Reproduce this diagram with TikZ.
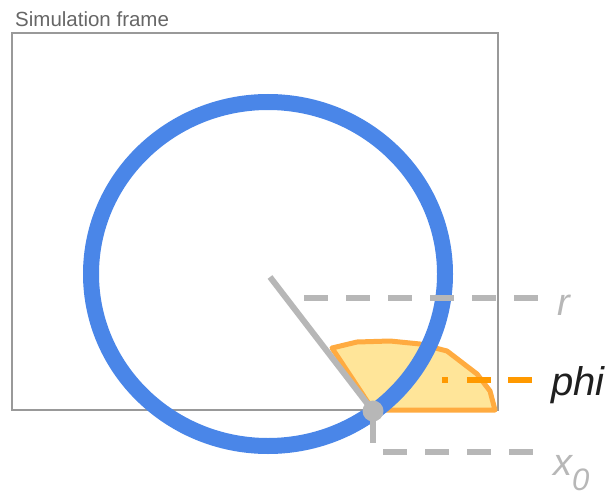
\documentclass[tikz,border=0pt]{standalone}
\usepackage{fontspec}
\setmainfont{Liberation Sans}
\definecolor{frameg}{HTML}{999999}
\definecolor{textg}{HTML}{666666}
\definecolor{lgray}{HTML}{B7B7B7}
\definecolor{blueC}{HTML}{4A86E8}
\definecolor{orangeS}{HTML}{FFAB40}
\definecolor{yellowF}{HTML}{FFE599}
\definecolor{orangeD}{HTML}{FF9900}
\definecolor{darkT}{HTML}{1F1F1F}
\tikzset{
  graydash/.style={draw=lgray, line width=6pt, dash pattern=on 24pt off 18pt},
  grayline/.style={draw=lgray, line width=6pt},
  lbl/.style={anchor=base west, inner sep=0pt, font=\fontsize{38}{40}\selectfont\itshape},
}
\begin{document}
\begin{tikzpicture}[x=1pt,y=-1pt]
\useasboundingbox (0,0) rectangle (615,497);
% frame
\draw[frameg, line width=1.6pt] (12,33) rectangle (498,410);
\node[anchor=base west, inner sep=0pt, text=textg, font=\fontsize{20.5}{24}\selectfont] (title) at (15,27) {Simulation frame};
% coordinates
\coordinate (c) at (270,277);
\coordinate (p) at (373,411);
\coordinate (pd) at (373,443);
% polygon
\filldraw[fill=yellowF, draw=orangeS, line width=5pt, line join=round]
  (332,348) -- (357,342) -- (390,341) -- (420,344) -- (447,351) -- (477,374) -- (490,391) -- (495,410) -- (373,410) -- cycle;
% circle
\draw[blueC, line width=16pt] (268,274) ellipse [x radius=177, y radius=172];
% radius line
\draw[grayline] (c) -- (p);
\draw[grayline] (p) -- (pd);
\node[circle, fill=lgray, minimum size=21pt, inner sep=0pt] (dot) at (p) {};
% dashed lines
\coordinate (r1) at (304,298); \coordinate (r2) at (538,298);
\draw[graydash] (r1) -- (r2);
\coordinate (x1) at (383,452); \coordinate (x2) at (533,452);
\draw[graydash] (x1) -- (x2);
\coordinate (f1) at (442,380); \coordinate (f2) at (532,380);
\draw[orangeD, line width=6pt, dash pattern=on 6pt off 19pt on 24pt off 17pt on 24pt] (f1) -- (f2);
% labels
\node[lbl, text=lgray] (rl) at (557,315) {r};
\node[lbl, text=darkT, font=\fontsize{40}{42}\selectfont\itshape] (phil) at (551,395) {phi};
\node[lbl, text=lgray] (xl) at (553,475) {x\raisebox{-15pt}{\fontsize{31}{31}\selectfont 0}};
\end{tikzpicture}
\end{document}
